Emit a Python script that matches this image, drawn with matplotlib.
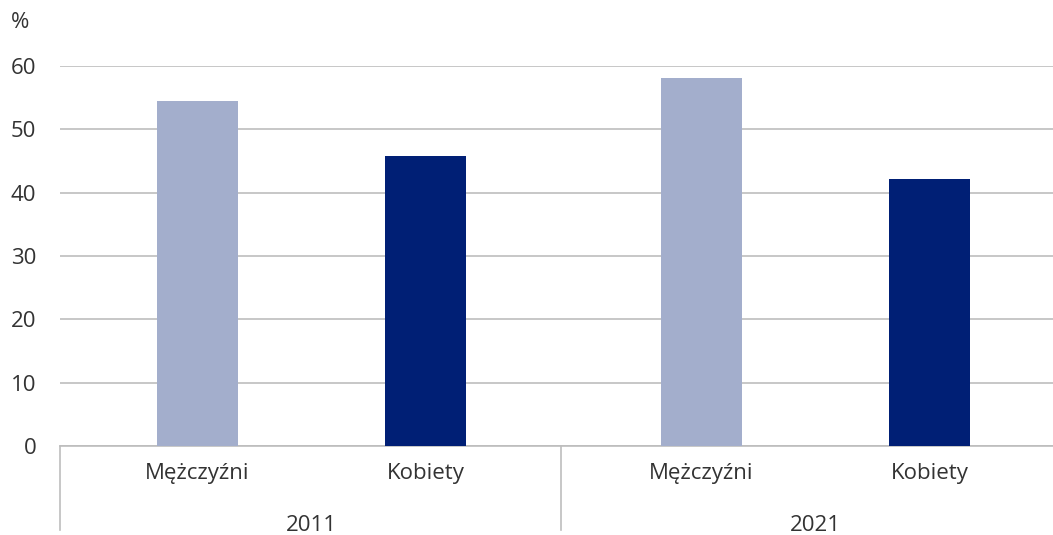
import matplotlib
matplotlib.use("Agg")
import matplotlib.pyplot as plt

years = ["2011", "2021"]
sexes = ["Mężczyźni", "Kobiety"]
values_2011 = [54.4, 45.8]
values_2021 = [58.1, 42.1]
yticks = [0, 10, 20, 30, 40, 50, 60]

light = "#a3aecc"
dark = "#001f75"
grid_col = "#bdbdbd"
txt = "#333333"
fs = 16

plt.rcParams["font.family"] = ["Open Sans", "DejaVu Sans"]

fig = plt.figure(figsize=(10.53, 5.35), dpi=100)
ax = fig.add_axes([60 / 1053, 1 - 446 / 535, 993 / 1053, 380 / 535])

group_offset = [0, 2.21]
bar_w = 0.355
for g, vals in enumerate([values_2011, values_2021]):
    xs = [group_offset[g], group_offset[g] + 1]
    ax.bar(xs, vals, width=bar_w, color=[light, dark], zorder=3)
    for x, s in zip(xs, sexes):
        ax.text(x, -4.4, s, ha="center", va="center", fontsize=fs, color=txt)
    mid = group_offset[g] + 0.5
    ax.text(mid, -12.6, years[g], ha="center", va="center", fontsize=fs, color=txt)

xl, xr = -0.603, 3.752
ax.set_xlim(xl, xr)
ax.set_ylim(0, 60)
ax.set_yticks(yticks)
ax.set_yticklabels([str(v) for v in yticks], fontsize=fs, color=txt)
ax.set_xticks([])
ax.tick_params(axis="y", length=0, pad=17)
ax.yaxis.grid(True, color=grid_col, linewidth=1.2, zorder=0)
for sp in ["top", "right", "left"]:
    ax.spines[sp].set_visible(False)
ax.spines["bottom"].set_color(grid_col)
ax.spines["bottom"].set_linewidth(1.2)

# group separators below the axis
divider = (group_offset[0] + 1 + group_offset[1]) / 2 - 0.01
for x in [xl, divider]:
    ax.plot([x, x], [0, -13.3], color=grid_col, linewidth=1.2, clip_on=False)

fig.text(11 / 1053, 1 - 22 / 535, "%", fontsize=fs, color=txt, va="center")

fig.savefig("out.png", dpi=100)
